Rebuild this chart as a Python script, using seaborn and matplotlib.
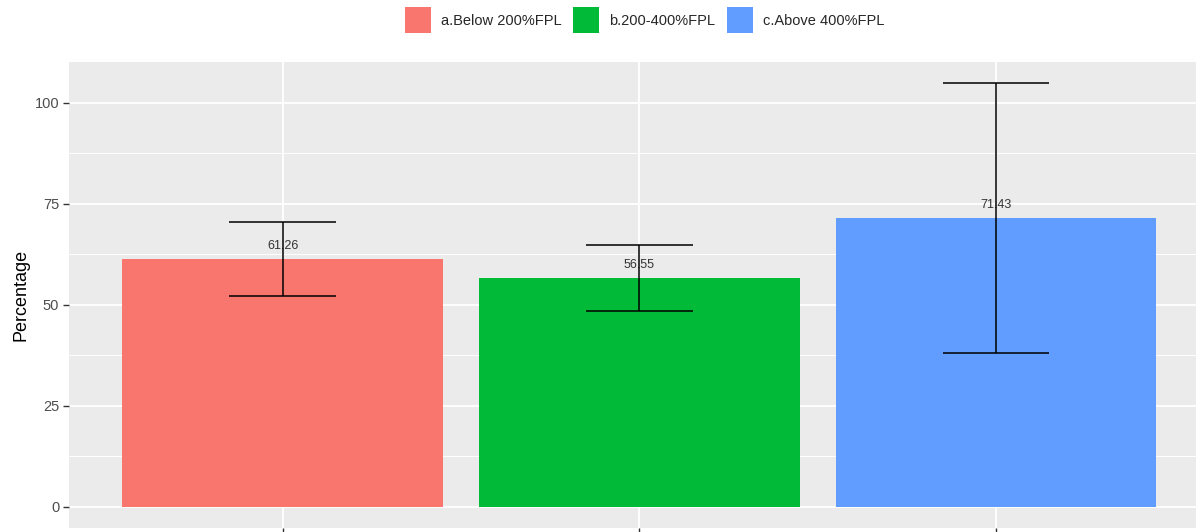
import numpy as np
import pandas as pd
import matplotlib
matplotlib.use("Agg")
import matplotlib.pyplot as plt
import seaborn as sns

# values
groups = ["a.Below 200%FPL", "b.200-400%FPL", "c.Above 400%FPL"]
pct = [61.26, 56.55, 71.43]
ci_low = [52.2, 48.5, 38.0]
ci_high = [70.4, 64.8, 104.9]
colors = ["#F8766D", "#00BA38", "#619CFF"]
yticks = [0, 25, 50, 75, 100]

df = pd.DataFrame({"group": groups, "pct": pct})

sns.set_theme(style="darkgrid")
plt.rcParams["font.family"] = ["Liberation Sans", "DejaVu Sans"]

fig = plt.figure(figsize=(11.96, 5.32), dpi=100)
ax = fig.add_axes([69 / 1196, 4 / 532, (1196 - 69) / 1196, (528 - 62) / 532])
ax.set_facecolor("#EBEBEB")

sns.barplot(data=df, x="group", y="pct", hue="group", palette=colors,
            width=0.9, saturation=1, errorbar=None, linewidth=0,
            legend=True, ax=ax, zorder=2)

# error bars with caps 0.3 wide, like geom_errorbar(width=0.3)
xpos = np.arange(len(groups))
ax.vlines(xpos, ci_low, ci_high, color="black", lw=1.1, zorder=4)
ax.hlines(ci_low, xpos - 0.15, xpos + 0.15, color="black", lw=1.1, zorder=4)
ax.hlines(ci_high, xpos - 0.15, xpos + 0.15, color="black", lw=1.1, zorder=4)

for x, v in zip(xpos, pct):
    ax.annotate(f"{v:.2f}", (x, v), xytext=(0, 9.5), textcoords="offset points",
                ha="center", va="center", fontsize=9, color="#333333", zorder=3)

ax.set_xlim(-0.6, 2.561)
ax.set_ylim(-5.24, 110.1)
ax.set_yticks(yticks)
ax.set_yticks([12.5, 37.5, 62.5, 87.5], minor=True)
ax.grid(which="major", color="white", lw=1.3, zorder=0)
ax.grid(which="minor", axis="y", color="white", lw=0.7, zorder=0)
ax.set_axisbelow(True)
for s in ax.spines.values():
    s.set_visible(False)

ax.set_xticks(xpos)
ax.set_xticklabels([])
ax.tick_params(axis="both", which="major", left=True, bottom=True, length=4,
               width=1, color="#333333", labelsize=10.5, labelcolor="#4D4D4D", pad=3)
ax.tick_params(axis="both", which="minor", length=0)
ax.set_xlabel("")
ax.set_ylabel("Percentage", fontsize=13, color="black", labelpad=4)

handles, labels = ax.get_legend_handles_labels()
ax.get_legend().remove()
fig.legend(handles, labels, loc="center", bbox_to_anchor=(0.539, 0.962),
           ncol=3, frameon=False, fontsize=10.5, handlelength=1.78,
           handleheight=2.4, handletextpad=0.7, columnspacing=0.8)

fig.savefig("out.png", dpi=100, facecolor="white")
